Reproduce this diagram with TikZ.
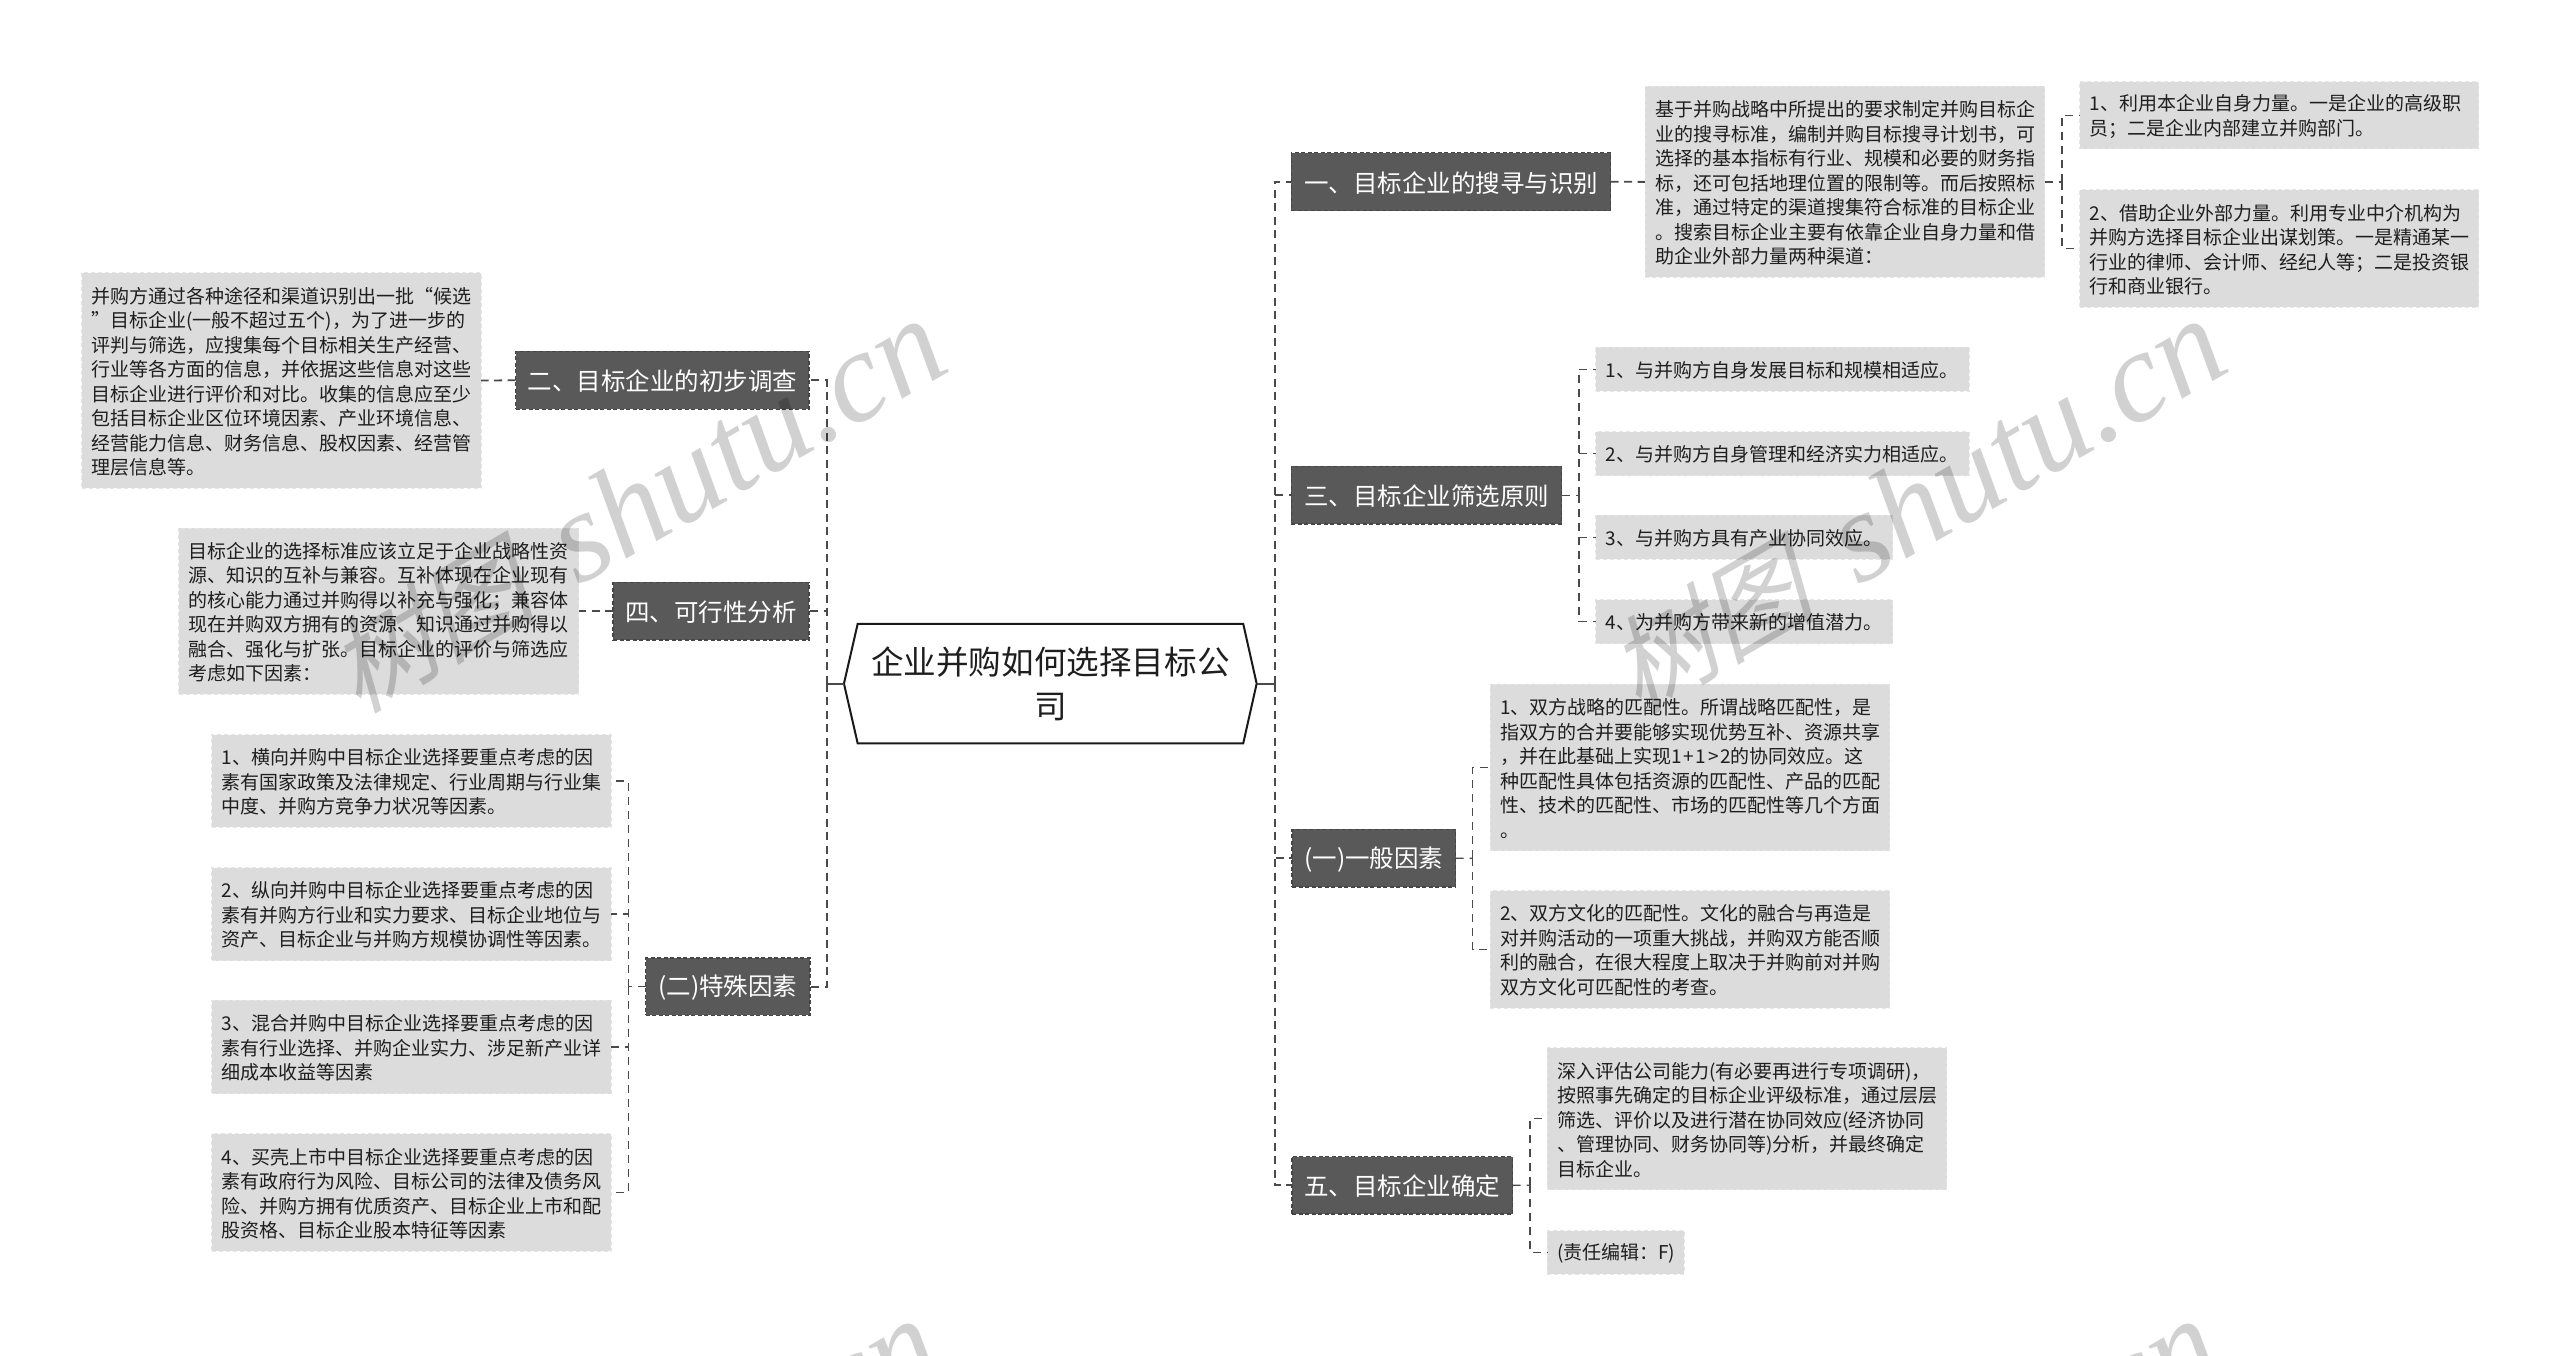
\documentclass[tikz,border=0pt]{standalone}
\usepackage{fontspec}
\setmainfont{Noto Sans CJK SC}
\newfontfamily\wmcjk[FakeSlant=0.25]{Noto Sans CJK SC}
\newfontfamily\wmlat{Liberation Serif}[ItalicFont={Liberation Serif Italic}]
\usetikzlibrary{calc}
\definecolor{headfill}{HTML}{595959}
\definecolor{headedge}{HTML}{454545}
\definecolor{boxfill}{HTML}{DCDCDC}
\definecolor{boxedge}{HTML}{E6E6E6}
\definecolor{inkc}{HTML}{1E1E1E}
\definecolor{linec}{HTML}{4A4A4A}
\tikzset{
  x=1pt,y=-1pt,
  headbox/.style={fill=headfill,draw=headedge,line width=1.2pt,dash pattern=on 4pt off 2.5pt,inner sep=0pt,outer sep=0pt,text=white,font=\fontsize{24.5}{30}\selectfont},
  textbox/.style={fill=boxfill,draw=boxedge,line width=1pt,dash pattern=on 4pt off 3pt,inner sep=0pt,outer sep=0pt,text=inkc,align=left,font=\fontsize{19}{24.5}\selectfont},
  rootbox/.style={inner sep=0pt,outer sep=0pt,text=inkc,align=center,font=\fontsize{32.6}{44.5}\selectfont},
  rootline/.style={draw=black!90,line width=2pt,line join=miter},
  trunk/.style={draw=linec,line width=2.2pt,dash pattern=on 8pt off 5.5pt},
  branch/.style={draw=linec,line width=1.3pt,dash pattern=on 8pt off 6pt},
  stem/.style={draw=linec,line width=2.2pt},
  wmark/.style={inner sep=0pt,outer sep=0pt,anchor=base west,rotate=30,text=black,text opacity=.18,font=\fontsize{129}{129}\selectfont},
}
\newcommand\hd[6]{%
  \pgfmathsetmacro\bw{#5-#3}\pgfmathsetmacro\bh{#6-#4}%
  \pgfmathsetmacro\bx{(#3+#5)/2}\pgfmathsetmacro\by{(#4+#6)/2}%
  \node[headbox,minimum width=\bw pt,minimum height=\bh pt] (#1) at (\bx,\by) {\raisebox{-1pt}[\height][\depth]{#2}};}
\newcommand\tb[6]{%
  \pgfmathsetmacro\bw{#5-#3}\pgfmathsetmacro\bh{#6-#4}\pgfmathsetmacro\tw{#5-#3-20}%
  \pgfmathsetmacro\bx{(#3+#5)/2}\pgfmathsetmacro\by{(#4+#6)/2}%
  \node[textbox,minimum width=\bw pt,minimum height=\bh pt,text width=\tw pt] (#1) at (\bx,\by) {\rule{0pt}{18.5pt}#2};}
\newcommand\wmhead{{\wmcjk\fontsize{105}{105}\selectfont 树图}\hspace{45pt}}
\newcommand\wmtail{{\wmlat\itshape shutu.}}
\newcommand\wmend{{\wmlat\itshape cn}}
\begin{document}
\begin{tikzpicture}
\useasboundingbox (0,0) rectangle (2560,1355);
\fill[white] (0,0) rectangle (2560,1355);

% root
\node[rootbox,minimum width=412.7pt,minimum height=119.3pt] (root) at (1050.3,683.6) {企业并购如何选择目标公\\司};
\draw[rootline] (root.west) -- ($(root.north west)+(13.7,0)$) -- ($(root.north east)+(-13.4,0)$) -- (root.east) -- ($(root.south east)+(-13.4,0)$) -- ($(root.south west)+(13.7,0)$) -- cycle;

% heads
\hd{h1}{一、目标企业的搜寻与识别}{1291.4}{152.8}{1610.6}{210.5}
\hd{h3}{三、目标企业筛选原则}{1291.4}{466.4}{1561.8}{524}
\hd{hg}{(一)一般因素}{1292}{829.3}{1455.7}{887}
\hd{h5}{五、目标企业确定}{1292}{1156.5}{1512.7}{1214}
\hd{h2}{二、目标企业的初步调查}{515.5}{351.3}{809}{409.3}
\hd{h4}{四、可行性分析}{613}{582.3}{809}{640}
\hd{hs}{(二)特殊因素}{645.7}{958}{810}{1015.4}

% left texts
\tb{t2}{并购方通过各种途径和渠道识别出一批“候选\\”目标企业(一般不超过五个)，为了进一步的\\评判与筛选，应搜集每个目标相关生产经营、\\行业等各方面的信息，并依据这些信息对这些\\目标企业进行评价和对比。收集的信息应至少\\包括目标企业区位环境因素、产业环境信息、\\经营能力信息、财务信息、股权因素、经营管\\理层信息等。}{81.5}{272.7}{481}{488.3}
\tb{t4}{目标企业的选择标准应该立足于企业战略性资\\源、知识的互补与兼容。互补体现在企业现有\\的核心能力通过并购得以补充与强化；兼容体\\现在并购双方拥有的资源、知识通过并购得以\\融合、强化与扩张。目标企业的评价与筛选应\\考虑如下因素：}{178.5}{528.3}{578.6}{694}
\tb{s1}{1、横向并购中目标企业选择要重点考虑的因\\素有国家政策及法律规定、行业周期与行业集\\中度、并购方竞争力状况等因素。}{211.7}{734.7}{611}{827.4}
\tb{s2}{2、纵向并购中目标企业选择要重点考虑的因\\素有并购方行业和实力要求、目标企业地位与\\资产、目标企业与并购方规模协调性等因素。}{211.7}{867.5}{611}{960.6}
\tb{s3}{3、混合并购中目标企业选择要重点考虑的因\\素有行业选择、并购企业实力、涉足新产业详\\细成本收益等因素}{211.7}{1000.3}{611}{1093.5}
\tb{s4}{4、买壳上市中目标企业选择要重点考虑的因\\素有政府行为风险、目标公司的法律及债务风\\险、并购方拥有优质资产、目标企业上市和配\\股资格、目标企业股本特征等因素}{211.7}{1133.6}{611}{1251.4}

% right texts
\tb{t1}{基于并购战略中所提出的要求制定并购目标企\\业的搜寻标准，编制并购目标搜寻计划书，可\\选择的基本指标有行业、规模和必要的财务指\\标，还可包括地理位置的限制等。而后按照标\\准，通过特定的渠道搜集符合标准的目标企业\\。搜索目标企业主要有依靠企业自身力量和借\\助企业外部力量两种渠道：}{1645}{86.4}{2044.6}{277.4}
\tb{r1}{1、利用本企业自身力量。一是企业的高级职\\员；二是企业内部建立并购部门。}{2079.5}{81.6}{2478.8}{148.9}
\tb{r2}{2、借助企业外部力量。利用专业中介机构为\\并购方选择目标企业出谋划策。一是精通某一\\行业的律师、会计师、经纪人等；二是投资银\\行和商业银行。}{2079.5}{189.6}{2478.8}{307}
\tb{p1}{1、与并购方自身发展目标和规模相适应。}{1595.6}{347.4}{1969}{391.2}
\tb{p2}{2、与并购方自身管理和经济实力相适应。}{1595.6}{431.6}{1969}{475.5}
\tb{p3}{3、与并购方具有产业协同效应。}{1595.6}{515.4}{1892.6}{559.3}
\tb{p4}{4、为并购方带来新的增值潜力。}{1595.6}{599.6}{1892.6}{643.5}
\tb{g1}{1、双方战略的匹配性。所谓战略匹配性，是\\指双方的合并要能够实现优势互补、资源共享\\，并在此基础上实现1\hspace{1.8pt}+\hspace{1.8pt}1\hspace{1.8pt}>\hspace{1.8pt}2的协同效应。这\\种匹配性具体包括资源的匹配性、产品的匹配\\性、技术的匹配性、市场的匹配性等几个方面\\。}{1490}{684.4}{1889.7}{850.6}
\tb{g2}{2、双方文化的匹配性。文化的融合与再造是\\对并购活动的一项重大挑战，并购双方能否顺\\利的融合，在很大程度上取决于并购前对并购\\双方文化可匹配性的考查。}{1490}{890.5}{1889.7}{1008}
\tb{f1}{深入评估公司能力(有必要再进行专项调研)，\\按照事先确定的目标企业评级标准，通过层层\\筛选、评价以及进行潜在协同效应(经济协同\\、管理协同、财务协同等)分析，并最终确定\\目标企业。}{1547}{1047.9}{1946.7}{1189.7}
\tb{f2}{(责任编辑：F)}{1547}{1230.5}{1684.4}{1274}

% junction points
\coordinate (trR) at (1274.7,683.6);
\coordinate (trL) at (826.6,683.6);
\coordinate (e1) at (2062,181.9);
\coordinate (e3) at (1579,495.2);
\coordinate (eg) at (1472.5,858.2);
\coordinate (e5) at (1530,1185.2);
\coordinate (es) at (628.5,986.7);

% root to trunks
\draw[stem] (root.east) -- (trR);
\draw[stem] (root.west) -- (trL);
\foreach \c in {h1,h3,hg,h5} \draw[trunk] (trR) |- (\c.west);
\foreach \c in {h2,h4,hs} \draw[trunk] (trL) |- (\c.east);

% head to text
\draw[trunk,line width=1.8pt] (h1.east) -- (t1.west);
\draw[trunk,line width=1.8pt] (h2.west) -- (t2.east);
\draw[trunk,line width=1.8pt] (h4.west) -- (t4.east);

% elbows
\draw[branch] (t1.east) -- (e1);
\foreach \c in {r1,r2} \draw[branch] (e1) |- (\c.west);
\draw[branch] (h3.east) -- (e3);
\foreach \c in {p1,p2,p3,p4} \draw[branch] (e3) |- (\c.west);
\draw[branch] (hg.east) -- (eg);
\foreach \c in {g1,g2} \draw[branch] (eg) |- (\c.west);
\draw[branch] (h5.east) -- (e5);
\foreach \c in {f1,f2} \draw[branch] (e5) |- (\c.west);
\draw[branch] (hs.west) -- (es);
\foreach \c in {s1,s2,s3,s4} \draw[branch] (es) |- (\c.east);

% watermarks
\begin{scope}
\clip (0,0) rectangle (2560,1355);
\node[wmark] (w1) at (358,714) {\wmhead\wmtail\wmend};
\node[wmark] (w2) at (1638,714) {\wmhead\wmtail\wmend};
\node[wmark] (w3) at (352,1714) {\phantom{\wmhead\wmtail}\wmend};
\node[wmark] (w4) at (1632,1714) {\phantom{\wmhead\wmtail}\wmend};
\end{scope}
\end{tikzpicture}
\end{document}
